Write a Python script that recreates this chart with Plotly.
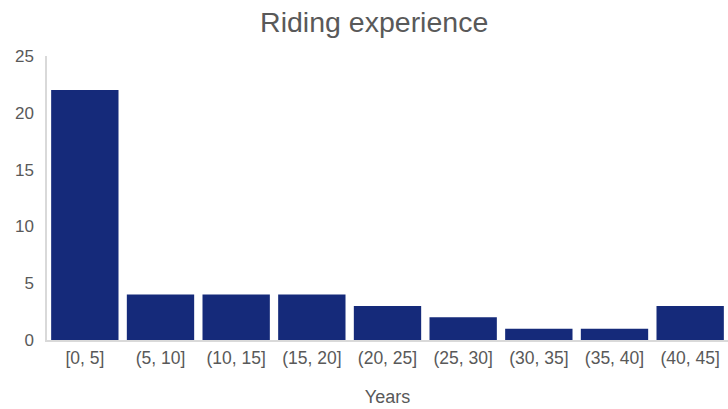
import plotly.graph_objects as go

categories = ["[0, 5]", "(5, 10]", "(10, 15]", "(15, 20]", "(20, 25]",
              "(25, 30]", "(30, 35]", "(35, 40]", "(40, 45]"]
counts = [22, 4, 4, 4, 3, 2, 1, 1, 3]

fig = go.Figure(go.Bar(x=categories, y=counts, marker_color="#152A7A",
                       marker_line_width=0))

fig.update_layout(
    width=728, height=409,
    margin=dict(l=47, r=0, t=56, b=69),
    paper_bgcolor="white", plot_bgcolor="white",
    bargap=0.11,
    showlegend=False,
    font=dict(family="Liberation Sans, Arial, sans-serif", color="#595959", size=15),
    title=dict(text="Riding experience", x=0.514, xanchor="center", y=0.945, yanchor="middle",
               font=dict(size=28.5, color="#595959")),
    xaxis=dict(showline=True, linecolor="#D9D9D9", linewidth=1.5, showgrid=False,
               ticks="outside", ticklen=1, tickcolor="rgba(0,0,0,0)",
               tickfont=dict(size=17.5, color="#595959"),
               title=dict(text="Years", font=dict(size=18, color="#595959"), standoff=24)),
    yaxis=dict(range=[0, 25], dtick=5, showline=True, linecolor="#D9D9D9", linewidth=1.5,
               showgrid=False, zeroline=False,
               ticks="outside", ticklen=8, tickcolor="rgba(0,0,0,0)",
               tickfont=dict(size=17, color="#595959")),
)

fig.write_html("out.html")
